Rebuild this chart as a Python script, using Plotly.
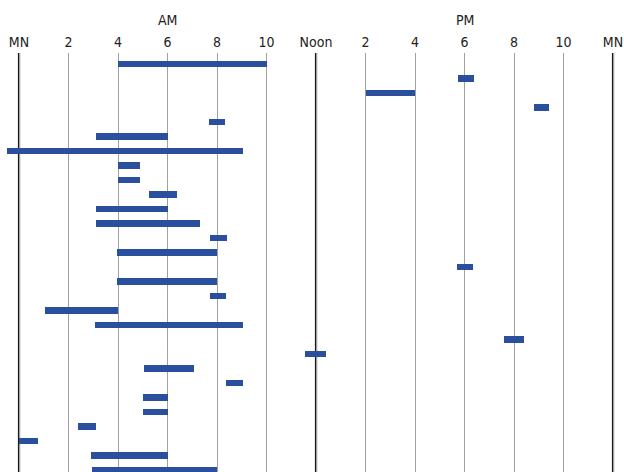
import plotly.graph_objects as go

# Data: each row is one activity span, in hours from midnight
starts = [4.0, 17.75, 14.0, 20.8, 7.67, 3.1, -0.5, 4.0, 4.0, 5.27, 3.1, 3.1, 7.72, 3.95,
          17.7, 3.95, 7.72, 1.05, 3.05, 19.6, 11.55, 5.05, 8.35, 5.0, 5.0, 2.4, 0.0, 2.9, 2.95]
ends = [10.0, 18.4, 16.0, 21.4, 8.33, 6.0, 9.05, 4.9, 4.9, 6.4, 6.0, 7.33, 8.4, 8.0,
        18.35, 8.0, 8.35, 4.0, 9.05, 20.4, 12.4, 7.05, 9.05, 6.0, 6.0, 3.1, 0.78, 6.0, 8.0]
rows = list(range(len(starts)))

tick_vals = [0, 2, 4, 6, 8, 10, 12, 14, 16, 18, 20, 22, 24]
tick_text = ["MN", "2", "4", "6", "8", "10", "Noon", "2", "4", "6", "8", "10", "MN"]
major_vals = [0, 12, 24]
period_labels = ["AM", "PM"]
period_centers = [6, 18]

FONT = "Liberation Sans Narrow, DejaVu Sans Condensed, Arial Narrow, sans-serif"

fig = go.Figure()
fig.add_trace(go.Bar(
    y=rows,
    x=[e - s for s, e in zip(starts, ends)],
    base=starts,
    orientation="h",
    width=0.45,
    marker=dict(color="#2A4F9E", line=dict(width=0)),
    hoverinfo="skip",
))

for v in major_vals:
    fig.add_shape(type="line", xref="x", yref="paper", x0=v, x1=v, y0=0, y1=1,
                  line=dict(color="#1a1a1a", width=2.2), layer="below")

for lab, c in zip(period_labels, period_centers):
    fig.add_annotation(text=lab, x=c, xref="x", y=1.0, yref="paper", yshift=33,
                       yanchor="middle", showarrow=False,
                       font=dict(family=FONT, size=14, color="#222"))

fig.update_layout(
    width=624, height=472,
    margin=dict(l=0, r=0, t=53, b=0, autoexpand=False),
    paper_bgcolor="white", plot_bgcolor="white",
    showlegend=False,
    bargap=0,
    font=dict(family=FONT, size=14, color="#222"),
    xaxis=dict(
        range=[-0.768, 24.444], side="top", automargin=False,
        tickvals=tick_vals, ticktext=tick_text,
        showgrid=True, gridcolor="#a0a0a0", gridwidth=1.3,
        zeroline=False, showline=False, ticks="",
        tickfont=dict(family=FONT, size=14, color="#222"),
        ticklabelstandoff=2,
    ),
    yaxis=dict(
        range=[28.138, -0.759], showgrid=False, zeroline=False, automargin=False,
        showticklabels=False, showline=False, ticks="",
    ),
)

fig.write_html("out.html",
               config={"displayModeBar": False},
               post_script="document.body.style.margin='0';document.body.style.overflow='hidden';")
